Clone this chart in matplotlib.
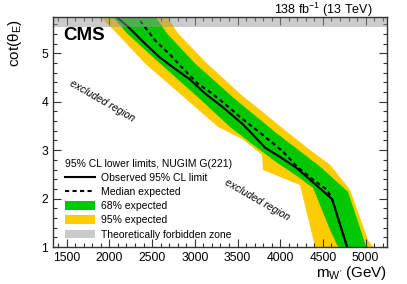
import matplotlib
matplotlib.use("Agg")
import matplotlib.pyplot as plt
from matplotlib.lines import Line2D
from matplotlib.patches import Patch
from matplotlib.ticker import MultipleLocator

plt.rcParams['font.family'] = ['Liberation Sans', 'DejaVu Sans']
plt.rcParams['mathtext.default'] = 'regular'

# ---- data (mass in GeV, cot(theta_E)) ----
obs_mass = [2050, 2218, 2417, 2593, 2769, 2944, 3120, 3319, 3553, 3670, 3823, 3998, 4186, 4408, 4607, 4783]
obs_cot = [5.80, 5.55, 5.20, 4.91, 4.68, 4.46, 4.17, 3.90, 3.55, 3.34, 3.05, 2.86, 2.64, 2.30, 1.99, 1.00]

exp_mass = [2312, 2382, 2534, 2733, 2886, 3038, 3202, 3389, 3553, 3764, 4033, 4197, 4385, 4549, 4607, 4783]
exp_cot = [5.80, 5.62, 5.27, 4.93, 4.64, 4.37, 4.17, 3.90, 3.65, 3.36, 2.97, 2.66, 2.39, 2.18, 1.99, 1.00]

# 68% band edges
g_lo_mass = [2019, 2207, 2593, 3026, 3413, 3682, 3963, 4209, 4385, 4584, 4677]
g_lo_cot = [5.80, 5.41, 4.79, 4.11, 3.48, 3.11, 2.74, 2.45, 2.22, 1.35, 1.00]
g_hi_mass = [2523, 2675, 3003, 3436, 3577, 3950, 4209, 4467, 4794, 4982, 5005]
g_hi_cot = [5.80, 5.41, 4.79, 4.11, 3.90, 3.36, 3.01, 2.66, 2.14, 1.14, 1.00]

# 95% band edges
y_lo_mass = [1867, 2089, 2417, 2862, 3272, 3565, 3787, 3799, 4232, 4408]
y_lo_cot = [5.80, 5.41, 4.79, 4.11, 3.48, 3.22, 2.90, 2.59, 2.28, 1.00]
y_hi_mass = [2663, 2804, 3143, 3565, 3717, 4092, 4373, 4584, 4818, 5029, 5090]
y_hi_cot = [5.80, 5.41, 4.79, 4.11, 3.90, 3.36, 2.97, 2.70, 2.18, 1.14, 1.00]

forbidden_cot = 5.55

x_range = (1340, 5250)
y_range = (1.0, 5.75)

c_green = '#00c800'
c_yellow = '#ffcc00'

fig = plt.figure(figsize=(4.07, 2.84), dpi=100)
ax = fig.add_axes([53/407, 37/284, 334/407, 230/284])

ax.fill(y_lo_mass + y_hi_mass[::-1], y_lo_cot + y_hi_cot[::-1], color=c_yellow, lw=0, zorder=1)
ax.fill(g_lo_mass + g_hi_mass[::-1], g_lo_cot + g_hi_cot[::-1], color=c_green, lw=0, zorder=2)
ax.plot(exp_mass, exp_cot, color='black', lw=1.5, ls=(0, (2.0, 1.6)), zorder=3)
ax.plot(obs_mass, obs_cot, color='black', lw=1.5, zorder=4)
ax.axhspan(forbidden_cot, 7, color='0.6', alpha=0.5, lw=0, zorder=5)

ax.set_xlim(*x_range)
ax.set_ylim(*y_range)

ax.xaxis.set_major_locator(MultipleLocator(500))
ax.xaxis.set_minor_locator(MultipleLocator(100))
ax.yaxis.set_major_locator(MultipleLocator(1))
ax.yaxis.set_minor_locator(MultipleLocator(0.2))
ax.tick_params(which='both', direction='in', top=True, right=True, width=0.8, colors='#333333',
               labelcolor='black', labelsize=8.7, pad=3.6)
ax.tick_params(which='major', length=6)
ax.tick_params(which='minor', length=3)
for s in ax.spines.values():
    s.set_linewidth(1.0)
    s.set_color('#333333')
    s.set_zorder(6)

ax.set_xlabel("m$_{W'}$ (GeV)", fontsize=11, loc='right')
ax.xaxis.set_label_coords(1.0, -0.072)
ax.set_ylabel("cot(θ$_E$)", fontsize=11, loc='top')
ax.yaxis.set_label_coords(-0.088, 0.99)

ax.text(0.03, 0.90, 'CMS', transform=ax.transAxes, fontsize=13.5, fontweight='bold',
        va='baseline', ha='left', zorder=7)
ax.text(0.958, 1.015, '138 fb$^{-1}$ (13 TeV)', transform=ax.transAxes, fontsize=9,
        va='baseline', ha='right')

ax.text(0.147, 0.635, 'excluded region', transform=ax.transAxes, fontsize=7.5, style='italic',
        rotation=-30, ha='center', va='center', rotation_mode='anchor')
ax.text(0.611, 0.204, 'excluded region', transform=ax.transAxes, fontsize=7.5, style='italic',
        rotation=-30, ha='center', va='center', rotation_mode='anchor')

handles = [
    Line2D([], [], color='black', lw=1.5),
    Line2D([], [], color='black', lw=1.5, ls=(0, (2.0, 1.6))),
    Patch(facecolor=c_green, edgecolor='none'),
    Patch(facecolor=c_yellow, edgecolor='none'),
    Patch(facecolor='0.6', alpha=0.5, edgecolor='none'),
]
labels = ['Observed 95% CL limit', 'Median expected', '68% expected', '95% expected',
          'Theoretically forbidden zone']
leg = ax.legend(handles, labels, title='95% CL lower limits, NUGIM G(221)', loc='upper left',
                bbox_to_anchor=(0.036, 0.383), frameon=False, fontsize=7.5, title_fontsize=7.5,
                handlelength=2.86, handleheight=0.95, handletextpad=0.6, labelspacing=0.39,
                borderpad=0, borderaxespad=0, alignment='left')
leg.set_zorder(8)

fig.savefig('out.png', dpi=100)
